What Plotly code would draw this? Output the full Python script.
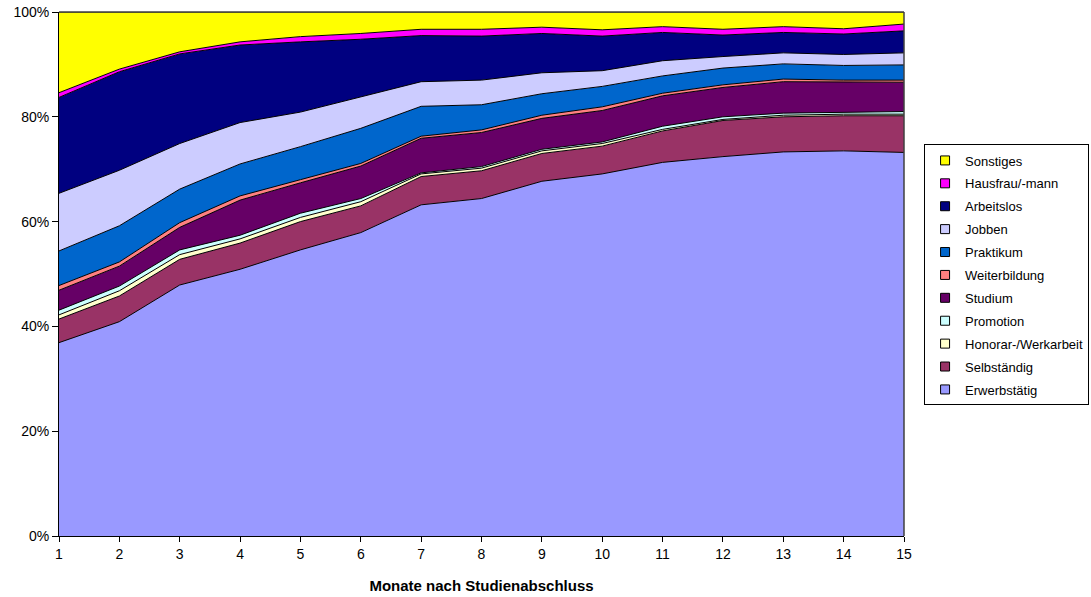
import plotly.graph_objects as go

months = list(range(1, 16))

erwerbstaetig = [36.9, 40.9, 47.9, 50.9, 54.6, 57.9, 63.2, 64.4, 67.7, 69.1, 71.3, 72.4, 73.3, 73.5, 73.2]
selbstaendig  = [4.5, 4.9, 4.9, 5.0, 5.4, 5.1, 5.4, 5.3, 5.3, 5.3, 6.0, 6.9, 6.7, 6.7, 7.0]
honorar       = [0.8, 1.0, 0.9, 0.8, 0.8, 0.8, 0.5, 0.5, 0.5, 0.5, 0.3, 0.2, 0.3, 0.3, 0.3]
promotion     = [0.9, 0.9, 0.9, 0.7, 0.8, 0.6, 0.2, 0.3, 0.3, 0.3, 0.6, 0.5, 0.4, 0.4, 0.5]
studium       = [3.8, 3.8, 4.3, 6.7, 5.8, 6.2, 6.6, 6.5, 5.9, 6.0, 5.8, 5.6, 6.0, 5.8, 5.6]
weiterbildung = [0.9, 0.8, 0.9, 0.8, 0.6, 0.5, 0.4, 0.5, 0.6, 0.7, 0.5, 0.5, 0.5, 0.3, 0.4]
praktikum     = [6.6, 6.9, 6.4, 6.1, 6.3, 6.7, 5.7, 4.8, 4.1, 3.9, 3.3, 3.2, 2.9, 2.8, 2.9]
jobben        = [11.0, 10.6, 8.7, 7.9, 6.6, 6.0, 4.7, 4.7, 4.0, 3.0, 2.9, 2.2, 2.1, 2.1, 2.3]
arbeitslos    = [18.3, 18.8, 17.1, 14.8, 13.4, 11.0, 8.8, 8.4, 7.5, 6.6, 5.4, 4.1, 3.9, 3.9, 4.2]
hausfrau      = [0.9, 0.5, 0.4, 0.6, 1.0, 1.1, 1.2, 1.3, 1.2, 1.2, 1.1, 1.1, 1.1, 1.0, 1.3]
sonstiges     = [15.4, 10.9, 7.6, 5.7, 4.7, 4.1, 3.3, 3.3, 2.9, 3.4, 2.8, 3.3, 2.8, 3.2, 2.3]

series = [
    ("Erwerbstätig", erwerbstaetig, "#9999FF"),
    ("Selbständig", selbstaendig, "#993366"),
    ("Honorar-/Werkarbeit", honorar, "#FFFFCC"),
    ("Promotion", promotion, "#CCFFFF"),
    ("Studium", studium, "#660066"),
    ("Weiterbildung", weiterbildung, "#FF8080"),
    ("Praktikum", praktikum, "#0066CC"),
    ("Jobben", jobben, "#CCCCFF"),
    ("Arbeitslos", arbeitslos, "#000080"),
    ("Hausfrau/-mann", hausfrau, "#FF00FF"),
    ("Sonstiges", sonstiges, "#FFFF00"),
]

fig = go.Figure()
for i, (name, vals, col) in enumerate(series):
    fig.add_trace(go.Scatter(
        x=months, y=vals, name=name, mode="lines",
        stackgroup="one", groupnorm="percent" if i == 0 else None,
        line=dict(color="black", width=1, shape="linear"),
        fillcolor=col, showlegend=False,
        hoverinfo="x+y+name",
    ))
# legend entries with square swatches (top of stack listed first)
for name, vals, col in reversed(series):
    fig.add_trace(go.Scatter(
        x=[None], y=[None], name=name, mode="markers",
        marker=dict(symbol="square", size=9, color=col, line=dict(color="black", width=1)),
        legendgroup="leg_" + name, showlegend=True, hoverinfo="skip",
    ))

font = "Liberation Sans, Arial, sans-serif"
fig.update_layout(
    width=1091, height=597,
    margin=dict(l=59, r=187, t=12, b=61),
    plot_bgcolor="white", paper_bgcolor="white",
    font=dict(family=font, size=14, color="black"),
    showlegend=True,
    legend=dict(
        traceorder="grouped", xref="container", yref="container",
        x=0.847, xanchor="left", y=0.758, yanchor="top",
        bordercolor="black", borderwidth=1, font=dict(family=font, size=13),
        tracegroupgap=3, itemwidth=30,
    ),
    xaxis=dict(
        range=[1, 15], tickmode="array", tickvals=months, ticktext=[str(m) for m in months],
        showgrid=False, zeroline=False, showline=True, linecolor="black", linewidth=1,
        ticks="outside", ticklen=5, tickcolor="black", automargin=False,
        tickfont=dict(family=font, size=14),
        title=dict(text="<b>Monate nach Studienabschluss</b>", font=dict(family=font, size=15), standoff=19),
    ),
    yaxis=dict(
        range=[0, 100], tickvals=[0, 20, 40, 60, 80, 100],
        ticktext=["0%", "20%", "40%", "60%", "80%", "100%"],
        showgrid=False, zeroline=False, showline=True, linecolor="black", linewidth=1,
        ticks="outside", ticklen=6, tickcolor="black", automargin=False,
        tickfont=dict(family=font, size=14),
    ),
)
# gray top/right plot border
fig.add_shape(type="line", xref="paper", yref="paper", x0=0, x1=1, y0=1, y1=1,
              line=dict(color="#404040", width=1.5))
fig.add_shape(type="line", xref="paper", yref="paper", x0=1, x1=1, y0=0, y1=1,
              line=dict(color="#404040", width=1.5))

fig.write_html("out.html", config={"displayModeBar": False},
               post_script="document.body.style.margin='0';document.body.style.overflow='hidden';")
